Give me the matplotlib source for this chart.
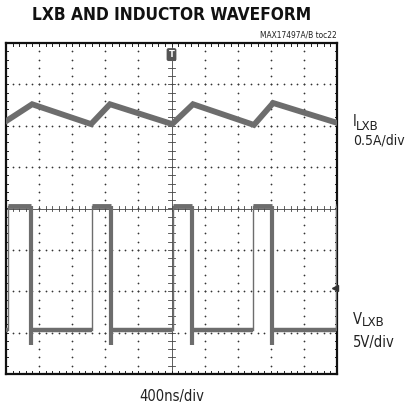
import numpy as np
import matplotlib
matplotlib.use("Agg")
import matplotlib.pyplot as plt

# ---- data (in scope divisions) ----
# inductor current trace vertices: time (div), level (div)
i_t = [0.0, 0.79, 2.57, 3.14, 5.02, 5.65, 7.49, 8.07, 10.0]
i_y = [2.11, 2.52, 2.04, 2.52, 2.04, 2.52, 2.02, 2.55, 2.07]
# LXB voltage: rising and falling edge times (div)
v_rise = [0.06, 2.60, 5.05, 7.46, 9.97]
v_fall = [0.76, 3.17, 5.62, 8.04]
v_high = 0.05
v_low = -2.93
v_spike = -3.30
v_gnd_marker = -1.92
trig_pos = 5.0

title = "LXB AND INDUCTOR WAVEFORM"
toc = "MAX17497A/B toc22"
x_label = "400ns/div"

FONT = ["DejaVu Sans"]
ST = "condensed"
TRACE = "#6d6d6d"

fig = plt.figure(figsize=(4.09, 4.08), dpi=100)
W, H = 409, 408
ax = fig.add_axes([6 / W, (H - 374) / H, 331 / W, 331 / H])
ax.set_xlim(0, 10)
ax.set_ylim(-4, 4)
ax.set_xticks([])
ax.set_yticks([])
for s in ax.spines.values():
    s.set_linewidth(1.6)
    s.set_color("#111111")

# dotted graticule
minor_x = np.arange(0, 10.001, 0.2)
minor_y = np.arange(-4, 4.001, 0.2)
for gx in range(1, 10):
    if gx == 5:
        continue
    ax.scatter(np.full_like(minor_y, gx), minor_y, s=1.6, c="#333333", linewidths=0, zorder=1)
for gy in range(-3, 4):
    if gy == 0:
        continue
    ax.scatter(minor_x, np.full_like(minor_x, gy), s=1.6, c="#333333", linewidths=0, zorder=1)

# center axes with cross ticks
ax.axhline(0, color="#444444", lw=0.6, zorder=1)
ax.axvline(5, color="#444444", lw=0.6, zorder=1)
for mx in minor_x:
    ax.plot([mx, mx], [-0.07, 0.07], color="#444444", lw=0.6, zorder=1)
for my in minor_y:
    ax.plot([4.9, 5.1], [my, my], color="#444444", lw=0.6, zorder=1)
# border ticks
for mx in minor_x:
    ax.plot([mx, mx], [-4, -3.92], color="#222222", lw=0.7, zorder=1)
    ax.plot([mx, mx], [4, 3.92], color="#222222", lw=0.7, zorder=1)
for my in minor_y:
    ax.plot([0, 0.07], [my, my], color="#222222", lw=0.7, zorder=1)
    ax.plot([10, 9.93], [my, my], color="#222222", lw=0.7, zorder=1)

# inductor current
ax.plot(i_t, i_y, color=TRACE, lw=4.2, solid_joinstyle="miter", zorder=3)

# LXB voltage
for r in v_rise:
    nxt = [f for f in v_fall if f > r]
    e = nxt[0] if nxt else 10.0
    ax.plot([r, e], [v_high, v_high], color=TRACE, lw=3.5, solid_capstyle="butt", zorder=3)
    ax.plot([r, r], [v_low, v_high], color=TRACE, lw=1.0, zorder=3)
for f in v_fall:
    nxt = [r for r in v_rise if r > f]
    e = nxt[0] if nxt else 10.0
    ax.plot([f, e], [v_low, v_low], color=TRACE, lw=3.2, solid_capstyle="butt", zorder=3)
    ax.plot([f, f], [v_spike, v_high], color=TRACE, lw=3.0, solid_capstyle="butt", zorder=3)
ax.plot([0, v_rise[0]], [v_low, v_low], color=TRACE, lw=3.2, solid_capstyle="butt", zorder=3)

# trigger marker & ground marker
ax.text(trig_pos, 3.72, "T", ha="center", va="center", color="white", fontsize=6,
        fontweight="bold", family=FONT,
        bbox=dict(boxstyle="round,pad=0.15", fc="#555555", ec="#555555"), zorder=5)
ax.plot([9.93], [v_gnd_marker], marker="<", color="#333333", markersize=5, zorder=5, clip_on=False)

# texts
fig.text(172 / W, 1 - 14.5 / H, title, ha="center", va="center", fontsize=12.4,
         fontweight="bold", family=FONT, fontstretch=ST, color="#111111")
fig.text(337 / W, 1 - 35 / H, toc, ha="right", va="center", fontsize=6, family=FONT,
         fontstretch=ST, color="#222222")
fig.text(172 / W, 1 - 396 / H, x_label, ha="center", va="center", fontsize=10.5, family=FONT,
         fontstretch=ST, color="#222222")

fig.text(353 / W, 1 - 122 / H, "I", ha="left", va="center", fontsize=10.5, family=FONT, fontstretch=ST, color="#222222")
fig.text(356 / W, 1 - 126 / H, "LXB", ha="left", va="center", fontsize=9.5, family=FONT, fontstretch=ST, color="#222222")
fig.text(353 / W, 1 - 140 / H, "0.5A/div", ha="left", va="center", fontsize=10, family=FONT, fontstretch=ST, color="#222222")

fig.text(353 / W, 1 - 319 / H, "V", ha="left", va="center", fontsize=10.5, family=FONT, fontstretch=ST, color="#222222")
fig.text(362 / W, 1 - 323 / H, "LXB", ha="left", va="center", fontsize=9.5, family=FONT, fontstretch=ST, color="#222222")
fig.text(353 / W, 1 - 342 / H, "5V/div", ha="left", va="center", fontsize=10.5, family=FONT, fontstretch=ST, color="#222222")

fig.savefig("out.png", dpi=100)
